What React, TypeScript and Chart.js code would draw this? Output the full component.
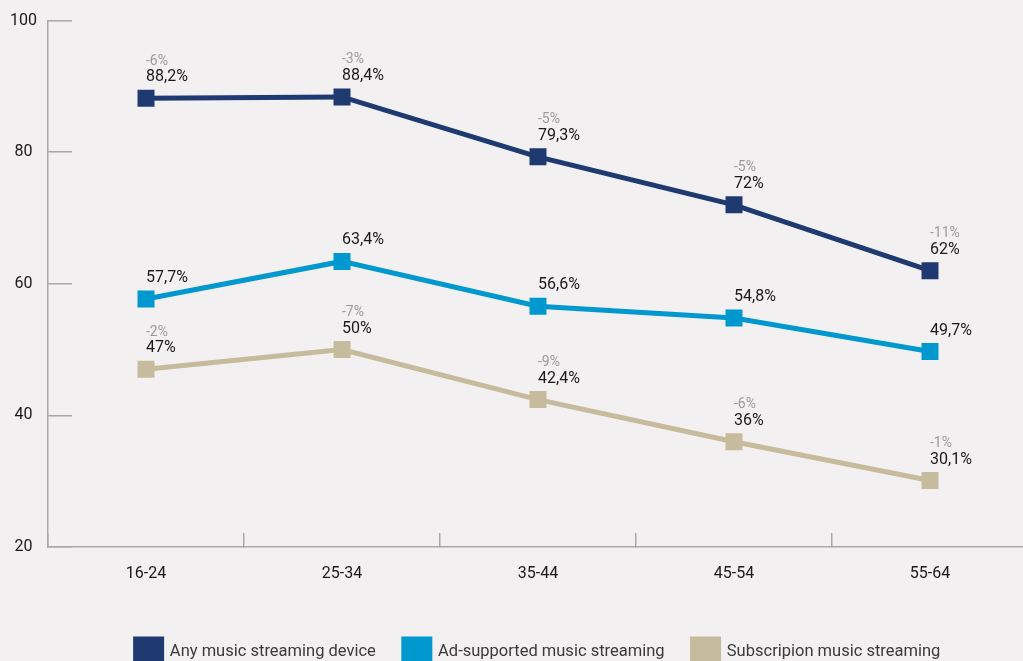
import React, { useEffect, useRef } from "react";
import { Chart, registerables } from "chart.js";

Chart.register(...registerables);

const ageGroups = ["16-24", "25-34", "35-44", "45-54", "55-64"];
const anyStreaming = [88.2, 88.4, 79.3, 72, 62];
const adSupported = [57.7, 63.4, 56.6, 54.8, 49.7];
const subscription = [47, 50, 42.4, 36, 30.1];
const anyChanges = ["-6%", "-3%", "-5%", "-5%", "-11%"];
const adChanges: string[] = ["", "", "", "", ""];
const subChanges = ["-2%", "-7%", "-9%", "-6%", "-1%"];
const seriesNames = [
  "Any music streaming device",
  "Ad-supported music streaming",
  "Subscripion music streaming",
];
const yTicks = [20, 40, 60, 80, 100];

const BG = "#f2f0f1";
const AXIS = "#a9a9a9";
const NAVY = "#1f3a70";
const CYAN = "#0098cf";
const BEIGE = "#c6bb9c";
const FONT = "Roboto";

const changeLists = [anyChanges, adChanges, subChanges];

const fmt = (v: number) => String(v).replace(".", ",") + "%";

const pointLabels = {
  id: "pointLabels",
  afterDatasetsDraw(chart: any) {
    const ctx = chart.ctx;
    chart.data.datasets.forEach((ds: any, di: number) => {
      const meta = chart.getDatasetMeta(di);
      meta.data.forEach((pt: any, i: number) => {
        ctx.save();
        ctx.textAlign = "left";
        ctx.textBaseline = "middle";
        ctx.font = `16px ${FONT}`;
        ctx.fillStyle = "#1a1a1a";
        ctx.fillText(fmt(ds.data[i]), pt.x, pt.y - 21);
        const ch = changeLists[di][i];
        if (ch) {
          ctx.font = `14px ${FONT}`;
          ctx.fillStyle = "#9b9b9b";
          ctx.fillText(ch, pt.x, pt.y - 37);
        }
        ctx.restore();
      });
    });
  },
};

function makeDataset(label: string, data: number[], color: string) {
  return {
    label,
    data,
    borderColor: color,
    backgroundColor: color,
    borderWidth: 5,
    pointStyle: "rect",
    pointRadius: 12,
    pointHoverRadius: 12,
    pointBorderWidth: 0,
    pointBackgroundColor: color,
    tension: 0,
  };
}

export default function App() {
  const ref = useRef<HTMLCanvasElement>(null);
  useEffect(() => {
    if (!ref.current) return;
    const chart = new Chart(ref.current, {
      type: "line",
      data: {
        labels: ageGroups,
        datasets: [
          makeDataset(seriesNames[0], anyStreaming, NAVY),
          makeDataset(seriesNames[1], adSupported, CYAN),
          makeDataset(seriesNames[2], subscription, BEIGE),
        ] as any,
      },
      options: {
        animation: false,
        responsive: false,
        devicePixelRatio: 1,
        layout: { padding: { left: 0, top: 20, right: 12, bottom: 5 } },
        plugins: {
          tooltip: { enabled: false },
          legend: {
            position: "bottom",
            fullSize: false,
            align: "center",
            labels: {
              boxWidth: 26,
              boxHeight: 26,
              padding: 28,
              color: "#3a3a3a",
              font: { family: FONT, size: 16.5 },
            },
          },
        },
        scales: {
          x: {
            type: "category",
            offset: true,
            afterFit: (s: any) => {
              s.height = 64;
            },
            grid: {
              offset: true,
              drawOnChartArea: false,
              drawTicks: true,
              tickLength: -14,
              color: AXIS,
              lineWidth: 1.5,
            },
            border: { display: true, color: AXIS, width: 1.5 },
            ticks: {
              color: "#1a1a1a",
              font: { family: FONT, size: 16 },
              padding: 31,
              maxRotation: 0,
            },
          },
          y: {
            min: 20,
            max: 100,
            afterFit: (s: any) => {
              s.width = 48;
            },
            afterBuildTicks: (s: any) => {
              s.ticks = yTicks.map((v) => ({ value: v }));
            },
            grid: {
              drawOnChartArea: false,
              drawTicks: true,
              tickLength: -24,
              color: AXIS,
              lineWidth: 1.5,
            },
            border: { display: true, color: AXIS, width: 1.5 },
            ticks: {
              color: "#1a1a1a",
              font: { family: FONT, size: 16 },
              padding: 35,
              crossAlign: "center",
            },
          },
        },
      } as any,
      plugins: [pointLabels],
    });
    return () => chart.destroy();
  }, []);

  return (
    <div
      style={{
        position: "fixed",
        left: 0,
        top: 0,
        width: 1023,
        height: 661,
        overflow: "hidden",
        background: BG,
      }}
    >
      <canvas
        ref={ref}
        width={1040}
        height={704}
        style={{ display: "block", width: 1040, height: 704, marginTop: -24 }}
      />
    </div>
  );
}
